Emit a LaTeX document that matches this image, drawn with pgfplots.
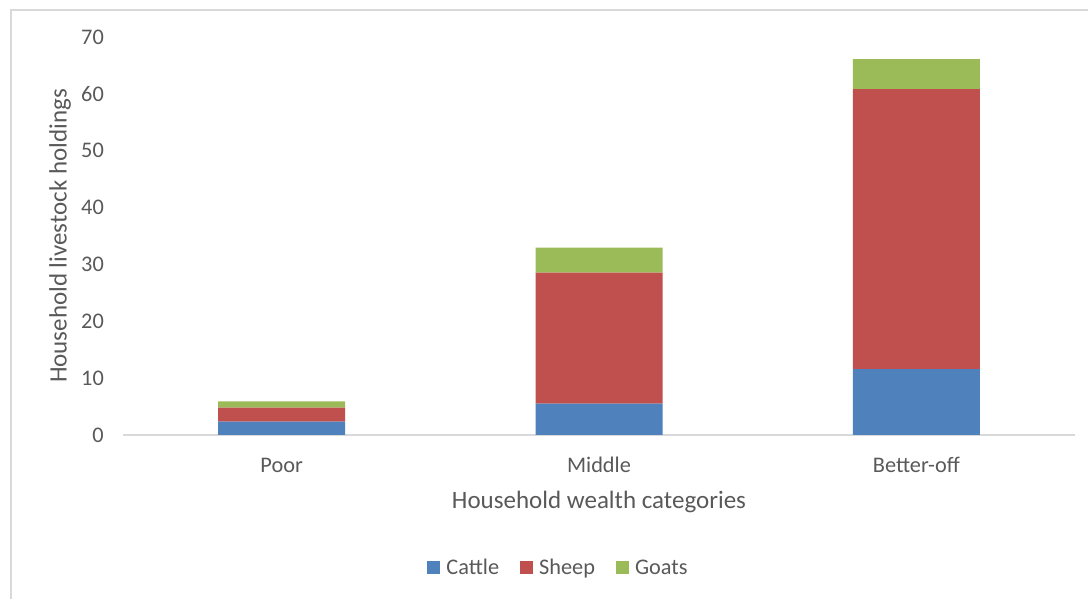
\documentclass[border=0pt]{standalone}
\usepackage{pgfplots}
\pgfplotsset{compat=1.18}
\usepackage{fontspec}
\setmainfont{Carlito}
\definecolor{cattle}{HTML}{4F81BD}
\definecolor{sheep}{HTML}{C0504D}
\definecolor{goats}{HTML}{9BBB59}
\definecolor{txt}{HTML}{595959}
\definecolor{lgray}{HTML}{D9D9D9}
\begin{document}
\begin{tikzpicture}
\useasboundingbox (0,0) rectangle (1088pt,599pt);
\draw[lgray, line width=1.5pt] (11pt,0pt) -- (11pt,589pt) -- (1088pt,589pt);
\begin{axis}[
  at={(123pt,164pt)}, anchor=south west,
  scale only axis, width=952pt, height=398pt,
  ybar stacked, bar width=127pt,
  xmin=-0.5, xmax=2.5, ymin=0, ymax=70,
  xtick={0,1,2}, xticklabels={Poor,Middle,Better-off},
  ytick={0,10,...,70},
  /pgf/number format/assume math mode=true,
  axis lines=left,
  y axis line style={draw=none},
  x axis line style={draw=lgray, line width=1.5pt, -},
  major tick length=0pt,
  tick style={draw=none},
  ticklabel style={font=\fontsize{22.3}{26}\selectfont, text=txt},
  yticklabel style={anchor=east, inner sep=0pt, xshift=-19pt},
  xticklabel style={anchor=center, inner sep=0pt, yshift=-30pt},
  xlabel={Household wealth categories},
  ylabel={Household livestock holdings},
  label style={font=\fontsize{25}{28}\selectfont, text=txt},
  xlabel style={at={(axis description cs:0.5,-0.1676)}, anchor=center, inner sep=0pt},
  ylabel style={at={(axis description cs:-0.0662,0.5)}, anchor=center, inner sep=0pt},
  legend columns=-1,
  legend style={at={(axis description cs:0.458,-0.334)}, anchor=center, draw=none,
    font=\fontsize{22.3}{26}\selectfont, text=txt,
    /tikz/every even column/.append style={column sep=18pt},
    nodes={inner sep=3pt}},
  legend image code/.code={\fill[#1] (0pt,-6.5pt) rectangle (13pt,6.5pt); \path (16pt,0pt);},
]
\addplot[fill=cattle, draw=none] coordinates {(0,2.34) (1,5.5) (2,11.6)};
\addplot[fill=sheep, draw=none] coordinates {(0,2.46) (1,23.05) (2,49.25)};
\addplot[fill=goats, draw=none] coordinates {(0,1.13) (1,4.39) (2,5.28)};
\legend{Cattle,Sheep,Goats}
\end{axis}
\end{tikzpicture}
\end{document}
